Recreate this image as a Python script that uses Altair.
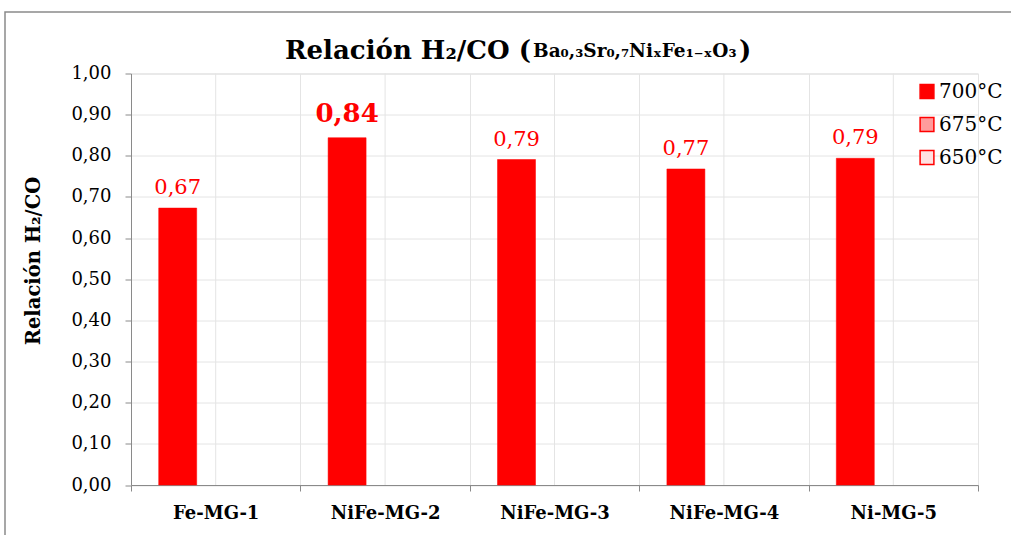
import altair as alt
import pandas as pd

categories = ["Fe-MG-1", "NiFe-MG-2", "NiFe-MG-3", "NiFe-MG-4", "Ni-MG-5"]
series = ["700°C", "675°C", "650°C"]
values_700 = [0.673, 0.844, 0.791, 0.768, 0.794]
highlight = [False, True, False, False, False]
series_colors = ["#ff0000", "#ff9c9c", "#ffe1e1"]

FONT = "DejaVu Serif"
W, H = 847, 411.5
PL, PT = 131, 73.5

df = pd.DataFrame({
    "cat": categories,
    "serie": ["700°C"] * len(categories),
    "v": values_700,
    "big": highlight,
})
cats_df = pd.DataFrame({"cat": categories})

xenc = alt.X("cat:N", sort=categories, title=None,
             scale=alt.Scale(type="band", paddingInner=0, paddingOuter=0),
             axis=alt.Axis(tickBand="extent", grid=True, gridColor="#e4e4e4",
                           domainColor="#8a8a8a", tickColor="#8a8a8a", tickSize=6,
                           labelFont=FONT, labelFontWeight="bold", labelFontSize=18,
                           labelColor="#000", labelPadding=22, labelAngle=0,
                           labelAlign="center"))
xoff = alt.XOffset("serie:N", sort=series,
                   scale=alt.Scale(domain=series, paddingInner=0, paddingOuter=0.729))
yenc = alt.Y("v:Q", scale=alt.Scale(domain=[0, 1], nice=False),
             title="Relación H₂/CO",
             axis=alt.Axis(values=[i / 10 for i in range(11)],
                           labelExpr="replace(format(datum.value, '.2f'), '.', ',')",
                           grid=True, gridColor="#e4e4e4", domainColor="#8a8a8a",
                           tickColor="#8a8a8a", tickSize=6, labelPadding=14,
                           labelFont=FONT, labelFontSize=18, labelColor="#000",
                           titleFont=FONT, titleFontSize=19.5, titleFontWeight="bold",
                           titleColor="#000", titlePadding=27, titleY=187))

base = alt.Chart(df)

center_grid = alt.Chart(cats_df).mark_rule(color="#e4e4e4", strokeWidth=1).encode(
    x=alt.X("cat:N", sort=categories, title=None),
    y=alt.value(0), y2=alt.value(H))

bars = base.mark_bar(stroke="#ff0000", strokeWidth=0.5).encode(
    x=xenc, xOffset=xoff, y=yenc,
    color=alt.Color("serie:N",
                    scale=alt.Scale(domain=series, range=series_colors),
                    legend=alt.Legend(title=None, orient="none", legendX=786, legendY=8,
                                      symbolType="square", symbolSize=190,
                                      symbolStrokeColor="#ff0000", symbolStrokeWidth=1.5,
                                      labelFont=FONT, labelFontSize=20, labelColor="#000",
                                      rowPadding=13, labelOffset=2)))

lab = "replace(format(datum.v, '.2f'), '.', ',')"
labels_small = base.transform_filter("!datum.big").transform_calculate(t=lab).mark_text(
    font=FONT, fontSize=21, color="#ff0000", baseline="alphabetic", dy=-14).encode(
    x=alt.X("cat:N", sort=categories), xOffset=xoff, y="v:Q", text="t:N")
labels_big = base.transform_filter("datum.big").transform_calculate(t=lab).mark_text(
    font=FONT, fontSize=26, fontWeight="bold", color="#ff0000", baseline="alphabetic",
    dy=-16).encode(
    x=alt.X("cat:N", sort=categories), xOffset=xoff, y="v:Q", text="t:N")

# title pieces
title_main = alt.Chart(pd.DataFrame({"t": ["Relación H₂/CO ("]})).mark_text(
    font=FONT, fontSize=26, fontWeight="bold", align="right", baseline="alphabetic",
    color="#000").encode(text="t:N", x=alt.value(400), y=alt.value(-15))
title_formula = alt.Chart(pd.DataFrame({"t": ["Ba₀,₃Sr₀,₇NiₓFe₁₋ₓO₃"]})).mark_text(
    font=FONT, fontSize=18.5, fontWeight="bold", align="left", baseline="alphabetic",
    color="#000").encode(text="t:N", x=alt.value(402), y=alt.value(-17))
title_close = alt.Chart(pd.DataFrame({"t": [")"]})).mark_text(
    font=FONT, fontSize=26, fontWeight="bold", align="left", baseline="alphabetic",
    color="#000").encode(text="t:N", x=alt.value(608), y=alt.value(-15))

frame = alt.Chart(pd.DataFrame({"a": [0]})).mark_rect(
    fill=None, stroke="#8a8a8a", strokeWidth=1.5).encode(
    x=alt.value(5 - PL), y=alt.value(12 - PT), x2=alt.value(1200), y2=alt.value(700))

chart = alt.layer(center_grid, bars, labels_small, labels_big,
                  title_main, title_formula, title_close, frame).properties(
    width=W, height=H,
    autosize=alt.AutoSizeParams(type="none"),
    padding={"left": PL, "top": PT, "right": 1011 - PL - W, "bottom": 535 - PT - H},
).configure_view(stroke=None).configure(background="white")

chart.save("out.html", embed_options={"renderer": "svg", "actions": False})
